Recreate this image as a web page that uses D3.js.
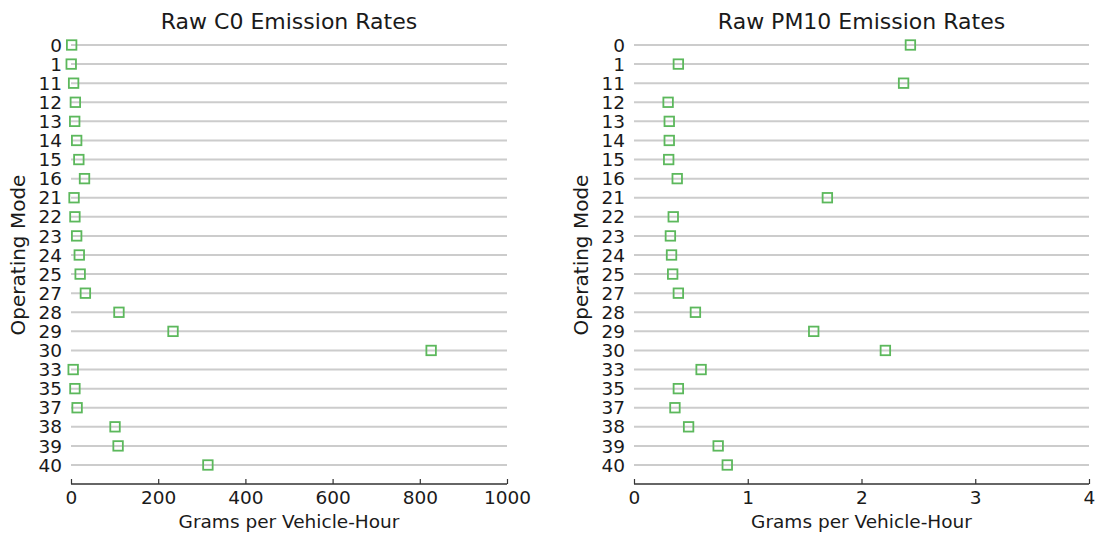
<!DOCTYPE html>
<html>
<head>
<meta charset="utf-8">
<script src="https://cdn.jsdelivr.net/npm/d3@7"></script>
<style>
  body { margin: 0; background: #fff; }
  svg { display: block; font-family: "DejaVu Sans", sans-serif; }
</style>
</head>
<body>
<svg id="chart" width="1096" height="536"></svg>
<script>
// Operating modes (row labels, top to bottom)
const modes = ["0", "1", "11", "12", "13", "14", "15", "16", "21", "22", "23", "24",
               "25", "27", "28", "29", "30", "33", "35", "37", "38", "39", "40"];

// Raw CO emission rates, grams per vehicle-hour
const coRates = [1.5, 0.5, 6, 10, 8.5, 13, 18, 31, 7, 9, 13, 19,
                 21, 33, 110, 234, 826, 5, 9, 14, 101, 108, 314];

// Raw PM10 emission rates, grams per vehicle-hour
const pm10Rates = [2.43, 0.39, 2.37, 0.30, 0.31, 0.31, 0.305, 0.38, 1.70, 0.345, 0.32, 0.33,
                   0.34, 0.39, 0.54, 1.58, 2.21, 0.59, 0.39, 0.36, 0.48, 0.74, 0.82];

const coTicks = [0, 200, 400, 600, 800, 1000];
const pm10Ticks = [0, 1, 2, 3, 4];

const svg = d3.select("#chart");
const rowTop = 45, rowBottom = 465, spineY = 484;
const markColor = "#5cb85c";
const textColor = "#1a1a1a";

function panel(opts) {
  const { x0, x1, domain, ticks, values, title } = opts;
  const g = svg.append("g");

  const x = d3.scaleLinear().domain(domain).range([x0, x1]);
  const y = d3.scalePoint().domain(modes).range([rowTop, rowBottom]);

  // horizontal gridlines, one per operating mode
  g.append("g").selectAll("line").data(modes).join("line")
    .attr("x1", x0).attr("x2", x1)
    .attr("y1", d => y(d)).attr("y2", d => y(d))
    .attr("stroke", "#cccccc").attr("stroke-width", 2);

  // row labels
  g.append("g").selectAll("text").data(modes).join("text")
    .attr("x", x0 - 9).attr("y", d => y(d))
    .attr("dy", "0.36em")
    .attr("text-anchor", "end")
    .attr("font-size", 18.5).attr("fill", textColor)
    .text(d => d);

  // bottom axis: spine with inward ticks
  const axis = d3.axisBottom(x).tickValues(ticks).tickSize(-5).tickPadding(7)
    .tickFormat(d3.format("d"));
  const ax = g.append("g").attr("transform", `translate(0,${spineY})`).call(axis);
  ax.select(".domain").attr("stroke", "#333").attr("stroke-width", 1.6)
    .attr("d", `M${x0},0H${x1}`);
  ax.selectAll(".tick line").attr("stroke", "#333").attr("stroke-width", 1.2);
  ax.selectAll(".tick text").attr("font-size", 18.5).attr("fill", textColor)
    .attr("font-family", "DejaVu Sans, sans-serif");

  // hollow square markers
  const s = 9.5;
  g.append("g").selectAll("rect").data(modes).join("rect")
    .attr("x", (d, i) => x(values[i]) - s / 2)
    .attr("y", d => y(d) - s / 2)
    .attr("width", s).attr("height", s)
    .attr("fill", "none")
    .attr("stroke", markColor).attr("stroke-width", 1.8);

  // titles and axis labels
  g.append("text")
    .attr("x", (x0 + x1) / 2).attr("y", 29)
    .attr("text-anchor", "middle").attr("font-size", 22).attr("fill", textColor)
    .text(title);

  g.append("text")
    .attr("x", (x0 + x1) / 2).attr("y", 528)
    .attr("text-anchor", "middle").attr("font-size", 18.5).attr("fill", textColor)
    .text("Grams per Vehicle-Hour");

  g.append("text")
    .attr("transform", `translate(${x0 - 46},${(rowTop + rowBottom) / 2}) rotate(-90)`)
    .attr("text-anchor", "middle").attr("font-size", 20).attr("fill", textColor)
    .text("Operating Mode");
}

panel({ x0: 71, x1: 507, domain: [0, 1000], ticks: coTicks, values: coRates,
        title: "Raw C0 Emission Rates" });
panel({ x0: 634, x1: 1089, domain: [0, 4], ticks: pm10Ticks, values: pm10Rates,
        title: "Raw PM10 Emission Rates" });
</script>
</body>
</html>
